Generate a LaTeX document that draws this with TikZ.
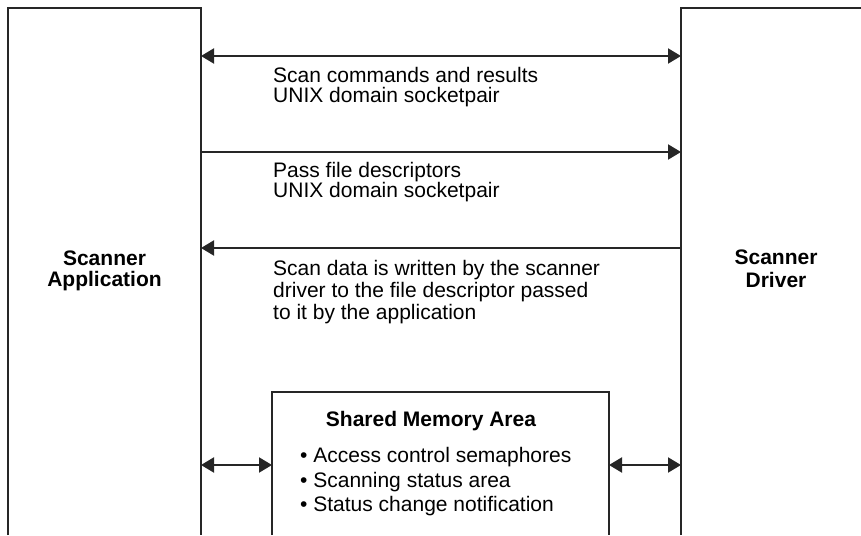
\documentclass[tikz,border=0pt]{standalone}
\usepackage{fontspec}
\setmainfont{Liberation Sans}
\usetikzlibrary{arrows.meta}
\begin{document}
\begin{tikzpicture}[x=1pt,y=-1pt,
  ln/.style={line width=2pt, draw=black!85},
  arr/.style={ln, -{Triangle[length=13pt,width=15pt]}},
  barr/.style={ln, {Triangle[length=13pt,width=15pt]}-{Triangle[length=13pt,width=15pt]}},
  lbl/.style={font=\fontsize{21}{20}\selectfont, inner sep=0pt, anchor=north west, align=left},
  hd/.style={font=\bfseries\fontsize{21}{21}\selectfont, inner sep=0pt, anchor=north, align=center},
  frame/.style={inner sep=0pt, outer sep=0pt, anchor=north west, draw=none}]
\useasboundingbox (0,0) rectangle (861,535);
% frames
\node[frame, minimum width=193pt, minimum height=527pt] (app) at (8,8) {};
\node[frame, minimum width=180pt, minimum height=527pt] (drv) at (681,8) {};
\node[frame, minimum width=337pt, minimum height=143pt] (shm) at (272,392) {};
\draw[ln] (app.south west) -- (app.north west) -- (app.north east) -- (app.south east);
\draw[ln] (drv.south west) -- (drv.north west) -- (drv.north east);
\draw[ln] (shm.south west) -- (shm.north west) -- (shm.north east) -- (shm.south east);
% box labels
\node[hd] (applbl) at (104.5,250.7) {Scanner\\Application};
\node[hd, font=\bfseries\fontsize{21}{23}\selectfont] (drvlbl) at (776,249.7) {Scanner\\Driver};
% arrows
\draw[barr] ([yshift=-48pt]app.north east) -- ([yshift=-48pt]drv.north west);
\draw[arr] ([yshift=-144pt]app.north east) -- ([yshift=-144pt]drv.north west);
\draw[arr] ([yshift=-240pt]drv.north west) -- ([yshift=-240pt]app.north east);
\coordinate (ys) at (0,465);
\draw[barr] (app.north east |- ys) -- (shm.north west |- ys);
\draw[barr] (shm.north east |- ys) -- (drv.north west |- ys);
% arrow labels
\node[lbl] (t1) at (273,66.6) {Scan commands and results\\UNIX domain socketpair};
\node[lbl] (t2) at (273,161.6) {Pass file descriptors\\UNIX domain socketpair};
\node[lbl, font=\fontsize{21}{22}\selectfont] (t3) at (273,259.6) {Scan data is written by the scanner\\driver to the file descriptor passed\\to it by the application};
% shared memory contents
\node[inner sep=0pt, anchor=base, font=\bfseries\fontsize{21}{21}\selectfont] (shmt) at (431,426) {Shared Memory Area};
\node[lbl, font=\fontsize{21}{24.6}\selectfont] (shmb) at (300,447.3) {\textbullet{} Access control semaphores\\\textbullet{} Scanning status area\\\textbullet{} Status change notification};
\end{tikzpicture}
\end{document}
